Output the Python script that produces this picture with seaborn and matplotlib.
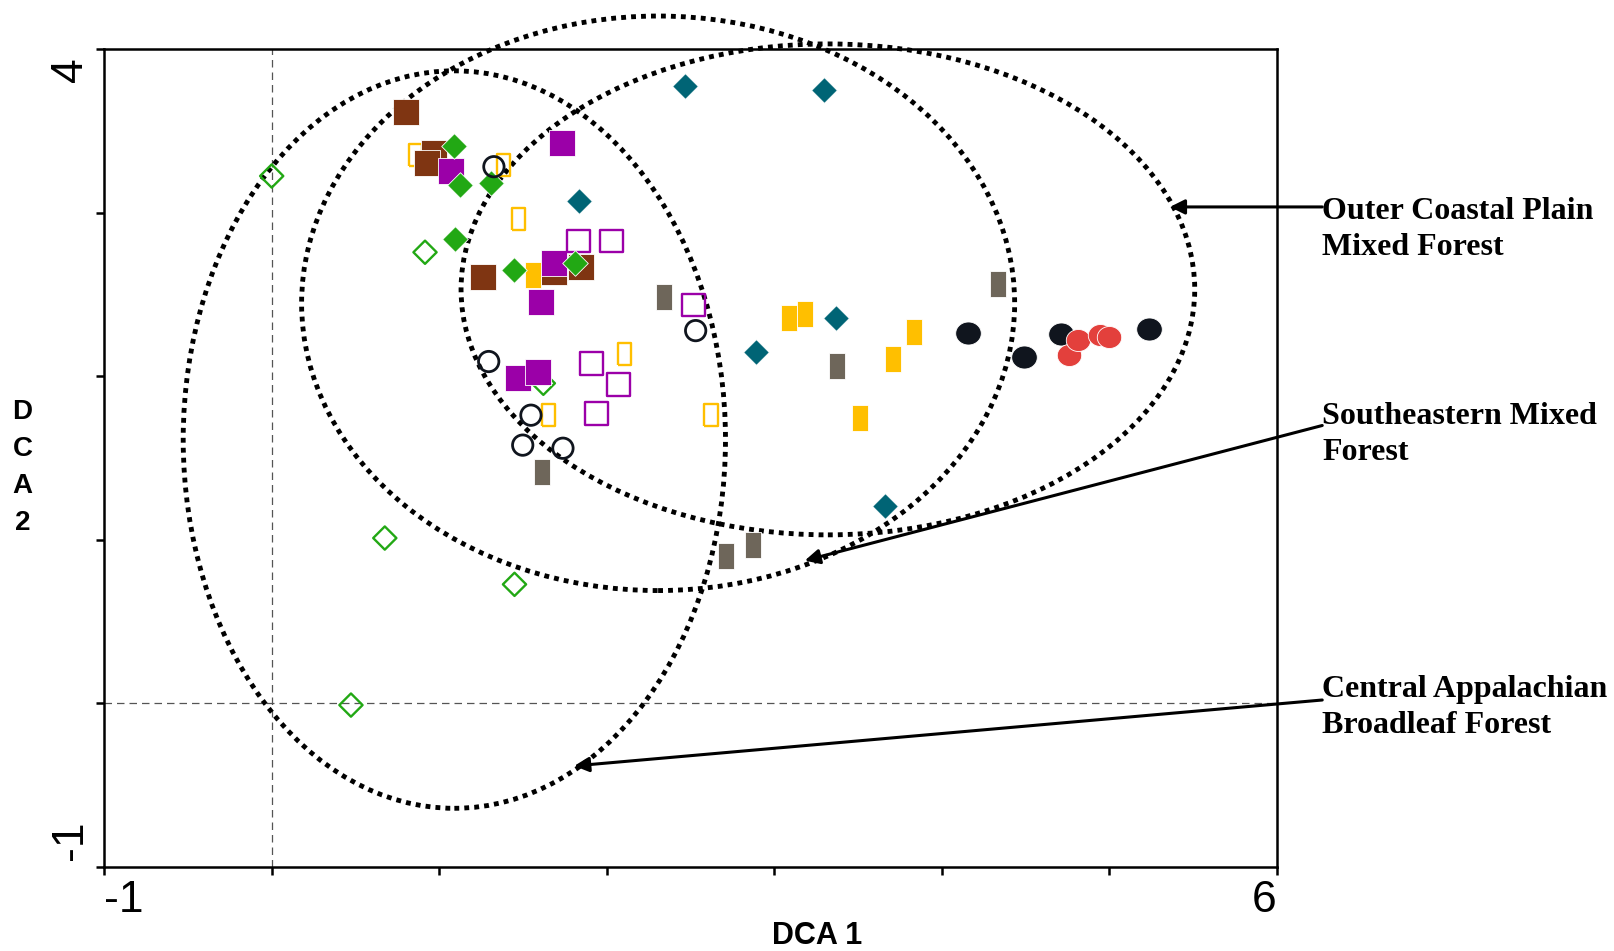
import numpy as np
import pandas as pd
import matplotlib
matplotlib.use('Agg')
import matplotlib.pyplot as plt
import matplotlib.transforms as mtransforms
from matplotlib.patches import Ellipse
import seaborn as sns

# point groups (DCA 1, DCA 2)
brown_sq_x = [0.805, 0.971, 0.928, 1.260, 1.683, 1.849]
brown_sq_y = [3.615, 3.363, 3.306, 2.607, 2.638, 2.670]

purple_sq_x = [1.732, 1.069, 1.683, 1.610, 1.468, 1.591]
purple_sq_y = [3.426, 3.256, 2.695, 2.455, 1.989, 2.026]

purple_open_x = [1.831, 2.027, 2.518, 1.910, 2.070, 1.941]
purple_open_y = [2.827, 2.827, 2.436, 2.077, 1.951, 1.774]

green_dia_x = [1.088, 1.125, 1.309, 1.094, 1.444, 1.812]
green_dia_y = [3.407, 3.168, 3.180, 2.840, 2.651, 2.695]

green_open_x = [0.001, 0.916, 1.622, 0.676, 1.450, 0.474]
green_open_y = [3.224, 2.758, 1.957, 1.011, 0.728, -0.010]

teal_dia_x = [2.469, 3.298, 1.837, 3.366, 2.893, 3.660]
teal_dia_y = [3.773, 3.748, 3.073, 2.354, 2.146, 1.207]

gray_rect_x = [2.340, 4.336, 3.372, 1.616, 2.715, 2.874]
gray_rect_y = [2.487, 2.562, 2.064, 1.415, 0.904, 0.967]

orange_rect_x = [1.560, 3.089, 3.182, 3.832, 3.710, 3.513]
orange_rect_y = [2.619, 2.354, 2.380, 2.272, 2.108, 1.743]

orange_open_x = [0.861, 1.382, 1.475, 2.107, 1.653, 2.623]
orange_open_y = [3.351, 3.294, 2.960, 2.134, 1.762, 1.762]

circle_open_x = [1.327, 2.531, 1.296, 1.548, 1.499, 1.739]
circle_open_y = [3.281, 2.279, 2.090, 1.762, 1.579, 1.560]

black_dot_x = [4.158, 4.489, 4.710, 5.238]
black_dot_y = [2.266, 2.115, 2.260, 2.291]

red_dot_x = [4.760, 4.815, 4.944, 4.999]
red_dot_y = [2.127, 2.222, 2.253, 2.241]

# ecoregion ellipses: centre x, centre y, width, height
region_names = ['Central Appalachian\nBroadleaf Forest',
                'Southeastern Mixed\nForest',
                'Outer Coastal Plain\nMixed Forest']
region_cx = [1.091, 2.307, 3.320]
region_cy = [1.613, 2.446, 2.531]
region_w = [3.236, 4.255, 4.378]
region_h = [4.508, 3.512, 3.001]

# label text position and arrow head position
label_x = [6.27, 6.27, 6.27]
label_y = [-0.025, 1.642, 2.897]
tail_y = [0.021, 1.699, 3.035]
head_x = [1.806, 3.182, 5.361]
head_y = [-0.382, 0.873, 3.035]

rect_marker = [(-0.3, -0.5), (0.3, -0.5), (0.3, 0.5), (-0.3, 0.5), (-0.3, -0.5)]
t = np.linspace(0, 2 * np.pi, 60)
oval_marker = list(zip(0.5 * np.cos(t), 0.45 * np.sin(t)))

fig = plt.figure(figsize=(16.14, 9.51), dpi=100)
ax = fig.add_axes([0.0644, 0.0883, 0.7268, 0.8601])


def points(xs, ys, marker, color, s, open_marker=False, lw=1.5, z=4):
    df = pd.DataFrame({'x': xs, 'y': ys})
    sns.scatterplot(data=df, x='x', y='y', marker=marker, s=s, color=color,
                    edgecolor='white' if not open_marker else color,
                    linewidth=0.6 if not open_marker else lw,
                    ax=ax, zorder=z, legend=False)
    if open_marker:
        pts = ax.collections[-1]
        pts.set_facecolor('none')
        pts.set_edgecolor(color)


points(orange_open_x, orange_open_y, rect_marker, '#ffbf00', 250, True, 1.7)
points(brown_sq_x, brown_sq_y, 's', '#7f3512', 330)
points(orange_rect_x, orange_rect_y, rect_marker, '#ffbf00', 330)
points(green_open_x, green_open_y, 'D', '#22a814', 140, True, 1.7)
points(purple_sq_x, purple_sq_y, 's', '#9b00a8', 330)
points(purple_open_x, purple_open_y, 's', '#9b00a8', 265, True, 1.7)
points(green_dia_x, green_dia_y, 'D', '#22a814', 170)
points(teal_dia_x, teal_dia_y, 'D', '#006475', 170)
points(gray_rect_x, gray_rect_y, rect_marker, '#6e665a', 330)
points(circle_open_x, circle_open_y, 'o', '#10151e', 215, True, 2.0)
points(black_dot_x, black_dot_y, oval_marker, '#10151e', 340)
points(red_dot_x, red_dot_y, oval_marker, '#e3403c', 310)

# dotted ecoregion envelopes
for cx, cy, w, h in zip(region_cx, region_cy, region_w, region_h):
    ax.add_patch(Ellipse((cx, cy), w, h, fill=False, ec='black', lw=3.5,
                         ls=(0, (1, 1.05)), clip_on=False, zorder=3))

# origin reference lines
ax.axvline(0, color='#555555', lw=0.9, ls=(0, (6, 4)), zorder=1)
ax.axhline(0, color='#555555', lw=0.9, ls=(0, (6, 4)), zorder=1)

# labels and arrows
for name, lx, ly, ty, hx, hy in zip(region_names, label_x, label_y,
                                    tail_y, head_x, head_y):
    ax.annotate('', xy=(hx, hy), xytext=(lx, ty), xycoords='data',
                arrowprops=dict(arrowstyle='-|>', color='black', lw=2.2,
                                mutation_scale=22, shrinkA=0, shrinkB=0),
                annotation_clip=False)
    ax.text(lx, ly, name, family='Liberation Serif', weight='bold',
            fontsize=23, ha='left', va='center', linespacing=1.32,
            clip_on=False)

ax.set_xlim(-1, 6)
ax.set_ylim(-1, 4)
ax.set_xticks(range(-1, 7))
ax.set_xticklabels(['-1', '', '', '', '', '', '', '6'],
                   family='Liberation Sans', fontsize=32)
ax.set_yticks(range(-1, 5))
ax.set_yticklabels(['-1', '', '', '', '', '4'], family='Liberation Sans',
                   fontsize=32, rotation=90, va='center')
ax.tick_params(direction='out', length=6, width=1.8, pad=3)
ax.set_xlabel('')
ax.set_ylabel('')
for sp in ax.spines.values():
    sp.set_linewidth(1.8)
    sp.set_color('black')

# nudge the end labels like the original
xl = ax.get_xticklabels()
xl[0].set_transform(xl[0].get_transform() + mtransforms.ScaledTranslation(0.2, 0, fig.dpi_scale_trans))
xl[-1].set_transform(xl[-1].get_transform() + mtransforms.ScaledTranslation(-0.13, 0, fig.dpi_scale_trans))
yl = ax.get_yticklabels()
yl[0].set_transform(yl[0].get_transform() + mtransforms.ScaledTranslation(0, 0.27, fig.dpi_scale_trans))
yl[-1].set_transform(yl[-1].get_transform() + mtransforms.ScaledTranslation(0, -0.21, fig.dpi_scale_trans))

fig.text(0.506, 0.016, 'DCA 1', family='Liberation Sans', weight='bold',
         fontsize=22, ha='center', va='center')
fig.text(0.014, 0.508, 'D\nC\nA\n2', family='Liberation Sans', weight='bold',
         fontsize=20, ha='center', va='center', linespacing=1.55)

fig.savefig('out.png', dpi=100)
